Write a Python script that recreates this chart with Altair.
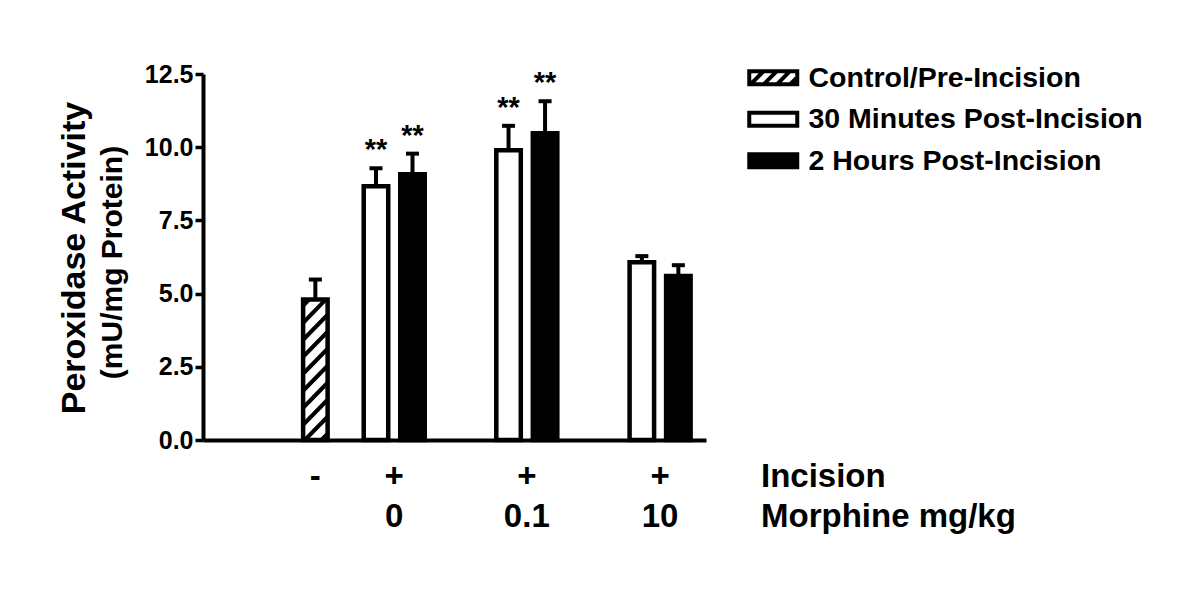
import altair as alt
import pandas as pd

# ---------------- data ----------------
SERIES = ["Control/Pre-Incision", "30 Minutes Post-Incision", "2 Hours Post-Incision"]
GROUP_INCISION = ["-", "+", "+", "+"]
GROUP_MORPHINE = ["", "0", "0.1", "10"]

BAR_GROUP = [0, 1, 1, 2, 2, 3, 3]
BAR_SERIES = [SERIES[0], SERIES[1], SERIES[2], SERIES[1], SERIES[2], SERIES[1], SERIES[2]]
BAR_MEAN = [4.8, 8.67, 9.08, 9.9, 10.48, 6.07, 5.6]
BAR_SEM = [0.68, 0.61, 0.7, 0.83, 1.09, 0.21, 0.37]
BAR_SIG = ["", "**", "**", "**", "**", "", ""]

Y_TITLE = "Peroxidase Activity"
Y_SUBTITLE = "(mU/mg Protein)"
ROW_TITLES = ["Incision", "Morphine mg/kg"]

# ---------------- layout / style ----------------
FONT = "Liberation Sans"
W, H = 503, 366
X_MAX, Y_MAX = 13.5, 12.5
GROUP_CENTER = [2.94, 5.1, 8.73, 12.38]
SERIES_SHIFT = {SERIES[0]: 0.0, SERIES[1]: -0.5, SERIES[2]: 0.5}
BAR_PX = 24.5
PXX, PXY = W / X_MAX, H / Y_MAX

bars = pd.DataFrame({
    "series": BAR_SERIES,
    "mean": BAR_MEAN,
    "sem": BAR_SEM,
    "sig": BAR_SIG,
})
bars["pos"] = [GROUP_CENTER[g] + SERIES_SHIFT[s] for g, s in zip(BAR_GROUP, BAR_SERIES)]
bars["top"] = bars["mean"] + bars["sem"]

groups = pd.DataFrame({
    "pos": GROUP_CENTER,
    "incision": GROUP_INCISION,
    "morphine": GROUP_MORPHINE,
})


def hatch_segments(center, value, spacing_px=17.0, phase_px=6.0):
    x_left = center * PXX - BAR_PX / 2
    h_px = value * PXY
    segs = []
    k = 0
    while True:
        yb = phase_px + k * spacing_px - BAR_PX
        if yb > h_px:
            break
        t0 = max(0.0, -yb / BAR_PX)
        t1 = min(1.0, (h_px - yb) / BAR_PX)
        if t1 > t0:
            segs.append({
                "hx": (x_left + t0 * BAR_PX) / PXX,
                "hx2": (x_left + t1 * BAR_PX) / PXX,
                "hy": (yb + t0 * BAR_PX) / PXY,
                "hy2": (yb + t1 * BAR_PX) / PXY,
            })
        k += 1
    return segs


hatch = pd.DataFrame([seg for _, r in bars[bars["series"] == SERIES[0]].iterrows()
                      for seg in hatch_segments(r["pos"], r["mean"])])

xscale = alt.Scale(domain=[0, X_MAX], nice=False, zero=False)
yscale = alt.Scale(domain=[0, Y_MAX], nice=False)

X = alt.X("pos:Q", scale=xscale,
          axis=alt.Axis(labels=False, ticks=False, title=None, grid=False,
                        domainWidth=4, domainColor="black"))
Y = alt.Y("mean:Q", scale=yscale,
          axis=alt.Axis(values=[0, 2.5, 5, 7.5, 10, 12.5], format=".1f", grid=False,
                        labelFontSize=25, labelFontWeight="bold", labelColor="black",
                        labelFont=FONT, labelPadding=2,
                        tickSize=8, tickWidth=3.5, tickColor="black",
                        domainWidth=4, domainColor="black",
                        title=Y_TITLE, titleFont=FONT, titleFontSize=34,
                        titleFontWeight="bold", titleColor="black",
                        titleAngle=270, titleX=-119, titleY=183.5,
                        titleAlign="center", titleBaseline="alphabetic"))

base = alt.Chart(bars)

bar_layer = base.mark_bar(stroke="black", strokeWidth=4.5, size=BAR_PX, strokeJoin="miter").encode(
    x=X,
    y=Y,
    fill=alt.condition(alt.datum.series == SERIES[2], alt.value("black"), alt.value("white")),
)

hatch_layer = alt.Chart(hatch).mark_rule(color="black", strokeWidth=4, strokeCap="butt").encode(
    x=alt.X("hx:Q", scale=xscale),
    x2="hx2:Q",
    y=alt.Y("hy:Q", scale=yscale),
    y2="hy2:Q",
)

err_layer = base.mark_rule(color="black", strokeWidth=4).encode(
    x=alt.X("pos:Q", scale=xscale),
    y=alt.Y("mean:Q", scale=yscale),
    y2="top:Q",
)

cap_layer = base.mark_tick(orient="horizontal", size=13, thickness=4, color="black", opacity=1).encode(
    x=alt.X("pos:Q", scale=xscale),
    y=alt.Y("top:Q", scale=yscale),
)

sig_layer = base.transform_filter(alt.datum.sig != "").mark_text(
    font=FONT, fontSize=29, fontWeight="bold", color="black", baseline="alphabetic", dy=-9
).encode(
    x=alt.X("pos:Q", scale=xscale),
    y=alt.Y("top:Q", scale=yscale),
    text="sig:N",
)

# legend driven by an empty point layer with explicit scale domains
HATCH_PATH = ("M-2,-0.55H2V0.55H-2Z "
              "M-1.9,0.55L-0.8,-0.55 M-0.8,0.55L0.3,-0.55 "
              "M0.3,0.55L1.4,-0.55 M1.4,0.55L2,-0.05")
RECT_PATH = "M-2,-0.55H2V0.55H-2Z"
legend = alt.Legend(orient="none", legendX=556, legendY=-10.5, title=None,
                    labelFont=FONT, labelFontSize=28.5, labelFontWeight="bold",
                    labelColor="black", labelOffset=21, labelLimit=600,
                    symbolSize=576, symbolStrokeWidth=4, symbolOpacity=1,
                    rowPadding=11.5, padding=0)
legend_layer = base.transform_filter(alt.datum.mean < 0).mark_point(
    filled=True, strokeWidth=4, opacity=1
).encode(
    x=alt.X("pos:Q", scale=xscale),
    y=alt.Y("mean:Q", scale=yscale),
    fill=alt.Fill("series:N", scale=alt.Scale(domain=SERIES, range=["white", "white", "black"]),
                  legend=legend),
    stroke=alt.Stroke("series:N", scale=alt.Scale(domain=SERIES, range=["black", "black", "black"]),
                      legend=legend),
    shape=alt.Shape("series:N", scale=alt.Scale(domain=SERIES, range=[HATCH_PATH, RECT_PATH, RECT_PATH]),
                    legend=legend),
)

row1 = alt.Chart(groups).mark_text(font=FONT, fontSize=33, fontWeight="bold", color="black",
                                   baseline="alphabetic", align="center").encode(
    x=alt.X("pos:Q", scale=xscale), y=alt.value(413), text="incision:N")
row2 = alt.Chart(groups).mark_text(font=FONT, fontSize=33, fontWeight="bold", color="black",
                                   baseline="alphabetic", align="center").encode(
    x=alt.X("pos:Q", scale=xscale), y=alt.value(453), text="morphine:N")

titles = pd.DataFrame({"t": ROW_TITLES, "row": [0, 1]})
row_title1 = alt.Chart(titles).transform_filter(alt.datum.row == 0).mark_text(
    font=FONT, fontSize=33, fontWeight="bold", color="black", baseline="alphabetic", align="left"
).encode(x=alt.value(558), y=alt.value(413), text="t:N")
row_title2 = alt.Chart(titles).transform_filter(alt.datum.row == 1).mark_text(
    font=FONT, fontSize=33, fontWeight="bold", color="black", baseline="alphabetic", align="left"
).encode(x=alt.value(558), y=alt.value(453), text="t:N")

sub = alt.Chart(pd.DataFrame({"t": [Y_SUBTITLE]})).mark_text(
    font=FONT, fontSize=30, fontWeight="bold", color="black", angle=270,
    baseline="alphabetic", align="center"
).encode(x=alt.value(-81), y=alt.value(188.5), text="t:N")

chart = alt.layer(
    bar_layer, hatch_layer, err_layer, cap_layer, sig_layer, legend_layer,
    row1, row2, row_title1, row_title2, sub
).properties(
    width=W, height=H,
    autosize=alt.AutoSizeParams(type="none"),
    padding={"left": 195, "top": 66, "right": 486, "bottom": 100},
).configure(font=FONT).configure_view(stroke=None)

chart.save("out.html", embed_options={"renderer": "svg", "actions": False})
